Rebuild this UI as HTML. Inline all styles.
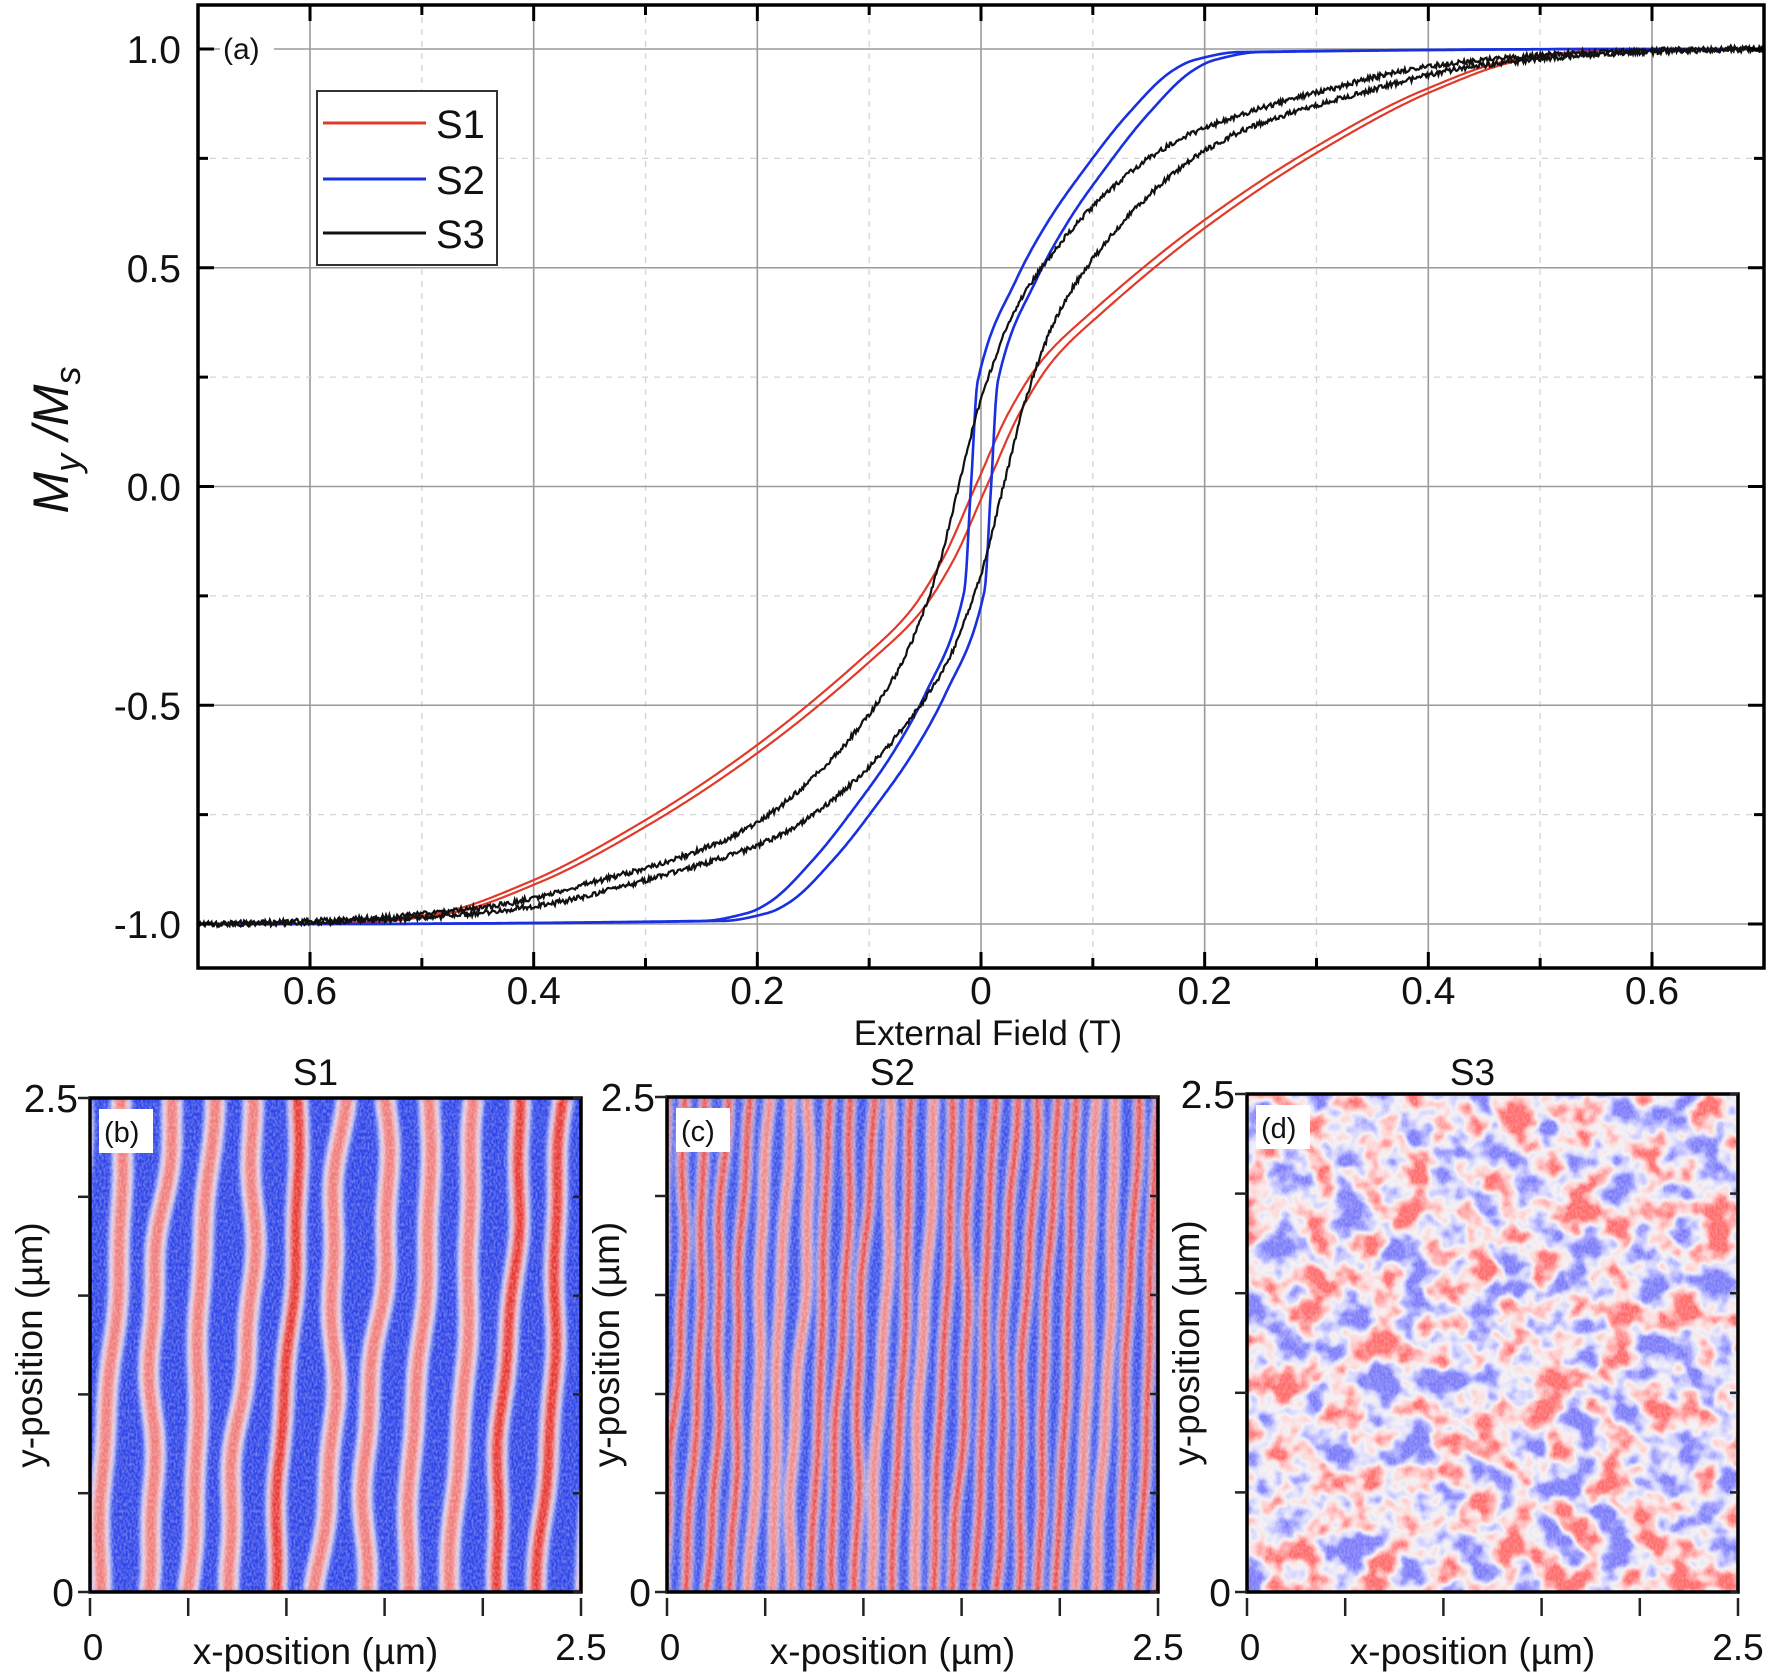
<!DOCTYPE html>
<html><head><meta charset="utf-8"><style>
html,body{margin:0;padding:0;background:#fff;}
svg{display:block;}
text{font-family:"Liberation Sans",sans-serif;fill:#111;}
</style></head><body>
<svg id="s" width="1770" height="1673" viewBox="0 0 1770 1673" xmlns="http://www.w3.org/2000/svg">
<defs>
<filter id="maze" x="0" y="0" width="1" height="1">
<feTurbulence type="fractalNoise" baseFrequency="0.03" numOctaves="3" seed="7" result="t"/>
<feColorMatrix in="t" type="matrix" values="1 0 0 0 0  1 0 0 0 0  1 0 0 0 0  0 0 0 0 1"/>
<feComponentTransfer>
<feFuncR type="linear" slope="2.5" intercept="-0.75"/>
<feFuncG type="linear" slope="2.5" intercept="-0.75"/>
<feFuncB type="linear" slope="2.5" intercept="-0.75"/>
</feComponentTransfer>
<feComponentTransfer>
<feFuncR type="table" tableValues="0.2 0.35 0.65 0.9 1 1 1"/>
<feFuncG type="table" tableValues="0.2 0.35 0.65 0.88 0.65 0.35 0.15"/>
<feFuncB type="table" tableValues="0.95 1 1 0.9 0.65 0.35 0.15"/>
</feComponentTransfer>
</filter>
<filter id="grain" x="0" y="0" width="1" height="1">
<feTurbulence type="fractalNoise" baseFrequency="0.5 0.3" numOctaves="1" seed="3" result="n"/>
<feColorMatrix in="n" type="matrix" values="0 0 0 0 1  0 0 0 0 1  0 0 0 0 1  0 0 0 1.6 -0.55"/>
</filter>
<filter id="bl"><feGaussianBlur stdDeviation="2"/></filter>
<clipPath id="cb"><rect x="90" y="1098" width="491" height="494"/></clipPath>
<clipPath id="cc"><rect x="667" y="1097" width="491" height="495"/></clipPath>
<clipPath id="cd"><rect x="1247" y="1094" width="491" height="498"/></clipPath>
</defs>
<g id="main"></g>
</svg>
<script>
const S=document.getElementById('main');
let out='';
const X=h=>981+h*1118.3, Y=m=>486.5-m*437.5;
const L=198,R=1764,T=5,B=968;
for(let i=-7;i<=7;i++){const x=X(i*0.1);if(i%2===0)out+=`<line x1="${x}" y1="${T}" x2="${x}" y2="${B}" stroke="#9a9a9a" stroke-width="1.6"/>`;else out+=`<line x1="${x}" y1="${T}" x2="${x}" y2="${B}" stroke="#d4d4d4" stroke-width="1.3" stroke-dasharray="6,6"/>`;}
for(let j=-4;j<=4;j++){const y=Y(j*0.25);if(j%2===0)out+=`<line x1="${L}" y1="${y}" x2="${R}" y2="${y}" stroke="#9a9a9a" stroke-width="1.6"/>`;else out+=`<line x1="${L}" y1="${y}" x2="${R}" y2="${y}" stroke="#d4d4d4" stroke-width="1.3" stroke-dasharray="6,6"/>`;}
function mk(tab){const n=tab.length,xs=tab.map(p=>p[0]),ys=tab.map(p=>p[1]);const d=[],m=[];
 for(let i=0;i<n-1;i++)d.push((ys[i+1]-ys[i])/(xs[i+1]-xs[i]));
 m[0]=d[0];m[n-1]=0;for(let i=1;i<n-1;i++){m[i]=(d[i-1]*d[i]<=0)?0:2/(1/d[i-1]+1/d[i]);}
 return h=>{const s=h<0?-1:1;h=Math.abs(h);if(h>=xs[n-1])return s;let i=0;while(h>xs[i+1])i++;const hh=xs[i+1]-xs[i],t=(h-xs[i])/hh;
  const h00=2*t*t*t-3*t*t+1,h10=t*t*t-2*t*t+t,h01=-2*t*t*t+3*t*t,h11=t*t*t-t*t;return s*(h00*ys[i]+h10*hh*m[i]+h01*ys[i+1]+h11*hh*m[i+1]);};}
function loop(tab,hc,col,noise,w){const f=mk(tab);let seed=1;const rnd=()=>{seed=(seed*16807)%2147483647;return seed/2147483647-0.5;};
 for(const sg of[1,-1]){let d='';for(let k=0;k<=1400;k++){const h=-0.7+k*0.001;let m=f(h+sg*hc);m+=noise*rnd();d+=(k?'L':'M')+X(h).toFixed(1)+','+Y(m).toFixed(1);}out+=`<path d="${d}" fill="none" stroke="${col}" stroke-width="${w}"/>`;}}
const t1=[[0,0],[0.03,0.17],[0.06,0.29],[0.1,0.39],[0.2,0.6],[0.3,0.77],[0.4,0.905],[0.48,0.975],[0.56,0.997],[0.62,1]];
const t2=[[0,0],[0.006,0.24],[0.04,0.47],[0.07,0.61],[0.1,0.72],[0.14,0.85],[0.18,0.95],[0.2,0.975],[0.24,0.993],[0.6,1]];
const t3=[[0,0],[0.02,0.2],[0.05,0.4],[0.08,0.52],[0.12,0.64],[0.17,0.75],[0.22,0.82],[0.32,0.9],[0.42,0.96],[0.55,0.99],[0.7,1]];
loop(t1,0.005,'#e03a2a',0,2.2);
loop(t2,0.009,'#1830e0',0,2.6);
loop(t3,0.02,'#111',0.012,2.2);
out+=`<rect x="${L}" y="${T}" width="${R-L}" height="${B-T}" fill="none" stroke="#000" stroke-width="3.5"/>`;
for(let i=-7;i<=7;i++){const x=X(i*0.1);const len=i%2===0?16:10;if(x<L+2||x>R-2)continue;out+=`<line x1="${x}" y1="${B}" x2="${x}" y2="${B-len}" stroke="#000" stroke-width="3"/><line x1="${x}" y1="${T}" x2="${x}" y2="${T+len}" stroke="#000" stroke-width="3"/>`;}
for(let j=-4;j<=4;j++){const y=Y(j*0.25);const len=j%2===0?16:10;out+=`<line x1="${L}" y1="${y}" x2="${L+len}" y2="${y}" stroke="#000" stroke-width="3"/><line x1="${R}" y1="${y}" x2="${R-len}" y2="${y}" stroke="#000" stroke-width="3"/>`;}
for(const v of[-0.6,-0.4,-0.2,0,0.2,0.4,0.6]){out+=`<text x="${X(v)}" y="1004" font-size="39" text-anchor="middle">${Math.abs(v).toFixed(v===0?0:1)}</text>`;}
for(const v of[1,0.5,0,-0.5,-1]){out+=`<text x="181" y="${Y(v)+14}" font-size="39" text-anchor="end">${v.toFixed(1)}</text>`;}
out+=`<text x="988" y="1045" font-size="35" text-anchor="middle">External Field (T)</text>`;
out+=`<text transform="translate(68,440) rotate(-90)" font-size="50" font-style="italic" text-anchor="middle">M<tspan font-size="36" dy="12">y</tspan><tspan dy="-12"> /M</tspan><tspan font-size="36" dy="12">s</tspan></text>`;
out+=`<rect x="220" y="30" width="54" height="38" fill="#fff"/><text x="223" y="59" font-size="30">(a)</text>`;
out+=`<rect x="317" y="91" width="180" height="174" fill="#fff" stroke="#333" stroke-width="2"/>`;
[['#e03a2a','S1',123],['#1830e0','S2',179],['#111','S3',233]].forEach(([c,t,y])=>{out+=`<line x1="323" y1="${y}" x2="426" y2="${y}" stroke="${c}" stroke-width="3"/><text x="436" y="${y+15}" font-size="40">${t}</text>`;});
function stripes(x0,y0,w,h,period,rw,halo,seed,clip,slant,amp,bg){let s=seed;const rnd=()=>{s=(s*16807)%2147483647;return s/2147483647;};
 let g=`<g clip-path="url(#${clip})"><rect x="${x0}" y="${y0}" width="${w}" height="${h}" fill="${bg}"/><g filter="url(#bl)">`;
 const n=Math.ceil(w/period)+3;
 for(let i=-2;i<n;i++){const ph=rnd()*6,ph2=rnd()*6,a=amp*(0.4+rnd()*0.8);let d='';for(let k=0;k<=60;k++){const y=y0+k*h/60;const x=x0+i*period+period/2+a*Math.sin(ph+k*0.12)+a*0.35*Math.sin(ph2+k*0.37)+slant*(k/60-0.5);d+=(k?'L':'M')+x.toFixed(1)+','+y.toFixed(1);}
  const red=rnd()>0.35?'#e8342e':'#f07a78';
  g+=`<path d="${d}" fill="none" stroke="#eef0ff" stroke-width="${rw+halo}"/><path d="${d}" fill="none" stroke="${red}" stroke-width="${rw}"/>`;}
 g+=`</g><rect x="${x0}" y="${y0}" width="${w}" height="${h}" filter="url(#grain)" opacity="0.45"/></g>`;return g;}
out+=stripes(90,1098,491,494,44,13,8,12345,'cb',-25,5,'#2f45e8');
out+=stripes(667,1097,491,495,20.5,8,4,777,'cc',-20,3,'#3a50ea');
out+=`<g clip-path="url(#cd)"><rect x="1247" y="1094" width="491" height="498" filter="url(#maze)"/><rect x="1247" y="1094" width="491" height="498" filter="url(#grain)" opacity="0.35"/></g>`;
const P=[[90,1098,'S1','(b)'],[667,1097,'S2','(c)'],[1247,1094,'S3','(d)']];
P.forEach(([x0,y0,t,lab])=>{const w=491,y1=1592,h=y1-y0;
 out+=`<rect x="${x0}" y="${y0}" width="${w}" height="${h}" fill="none" stroke="#000" stroke-width="3.5"/>`;
 out+=`<rect x="${x0+9}" y="${y0+11}" width="54" height="44" fill="#fff"/><text x="${x0+14}" y="${y0+44}" font-size="29">${lab}</text>`;
 for(let k=0;k<=5;k++){const x=x0+k*w/5;out+=`<line x1="${x}" y1="${y1+6}" x2="${x}" y2="${y1+24}" stroke="#222" stroke-width="2.5"/>`;const y=y1-k*h/5;out+=`<line x1="${x0-12}" y1="${y}" x2="${x0}" y2="${y}" stroke="#222" stroke-width="2.5"/><line x1="${x0+w}" y1="${y}" x2="${x0+w-8}" y2="${y}" stroke="#222" stroke-width="2.5"/>`;}
 out+=`<text x="${x0+w/2-20}" y="1085" font-size="37" text-anchor="middle">${t}</text>`;
 out+=`<text x="${x0-12}" y="${y0+14}" font-size="39" text-anchor="end">2.5</text>`;
 out+=`<text x="${x0-16}" y="${y1+14}" font-size="39" text-anchor="end">0</text>`;
 out+=`<text x="${x0+3}" y="1660" font-size="37" text-anchor="middle">0</text>`;
 out+=`<text x="${x0+w}" y="1660" font-size="37" text-anchor="middle">2.5</text>`;
 out+=`<text x="${x0+w/2-20}" y="1664" font-size="37" text-anchor="middle">x-position (µm)</text>`;
 out+=`<text transform="translate(${x0-48},${(y0+y1)/2}) rotate(-90)" font-size="37" text-anchor="middle">y-position (µm)</text>`;
});
S.innerHTML=out;
</script>
</body></html>
